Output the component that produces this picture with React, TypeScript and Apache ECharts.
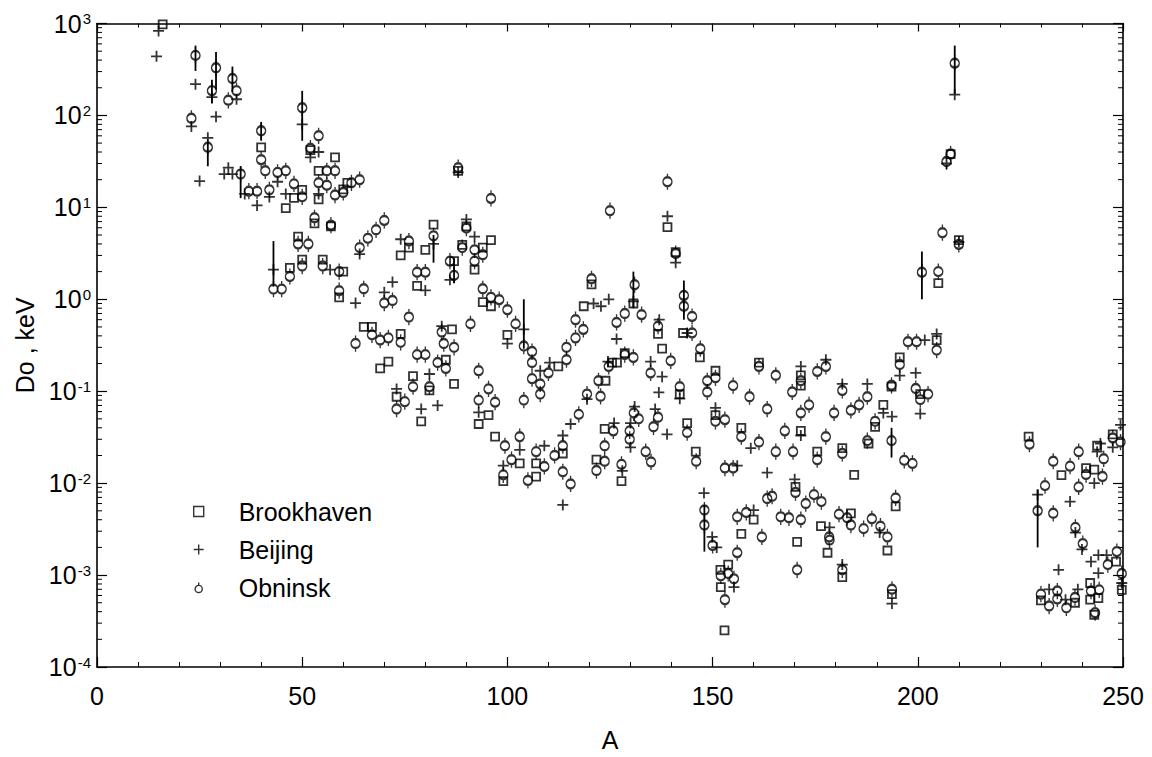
import React, { useEffect, useRef } from "react";
import * as echarts from "echarts";

// [A, Do (keV)] per evaluation
const brookhaven: [number, number][] = [
  [16, 980], [40, 45], [46, 9.8], [48, 12.7], [50, 15.5], [52, 42], [53, 6.7], [54, 25], [54, 12.2],
  [57, 6.2], [58, 35], [60, 15.7], [61, 18.5], [49, 4.8], [47, 2.2], [50, 2.7], [55, 2.7], [60, 2.0],
  [59, 1.05], [90, 6.2], [88, 25], [96, 4.4], [94, 3.65], [89, 3.9], [92, 2.1], [82, 6.5], [76, 3.65],
  [74, 3.0], [80, 3.45], [87, 2.6], [78, 1.4], [94, 0.93], [96, 0.84], [65, 0.5], [67, 0.5], [74, 0.42],
  [86.5, 0.47], [100, 0.41], [118.6, 0.84], [69, 0.177], [71, 0.21], [77, 0.146], [81, 0.102], [73, 0.087],
  [79, 0.047], [85, 0.22], [87, 0.12], [95.4, 0.055], [93, 0.044], [97, 0.032], [103, 0.0164], [99, 0.0105],
  [107, 0.0164], [107, 0.0118], [113.5, 0.021], [112.4, 0.186], [139, 6.1], [141, 3.25], [120.5, 1.45],
  [130.7, 0.9], [136.7, 0.42], [142.8, 0.43], [146.9, 0.233], [128.6, 0.26], [137.7, 0.29], [125.5, 0.205],
  [161.3, 0.205], [126.7, 0.205], [123.9, 0.13], [142, 0.093], [150.7, 0.167], [171.5, 0.149], [171.5, 0.115],
  [123.7, 0.039], [121.7, 0.018], [127.8, 0.0105], [143.8, 0.045], [145.9, 0.022], [150.7, 0.055], [157, 0.04],
  [171.5, 0.037], [175.5, 0.022], [160, 0.004], [157, 0.0028], [170.6, 0.0023], [170.2, 0.0091], [176.4, 0.0034],
  [151.9, 0.00114], [153.8, 0.0013], [152, 0.00074], [152.9, 0.00025], [178, 0.00175], [208, 38], [210, 4.4],
  [205, 1.5], [204.6, 0.36], [195.6, 0.233], [193.6, 0.112], [200.6, 0.093], [191.6, 0.071], [189.6, 0.041],
  [188, 0.027], [181.6, 0.024], [184.5, 0.0123], [194.6, 0.0056], [192.6, 0.00185], [183.7, 0.0047],
  [181.6, 0.00095], [193.7, 0.00062], [227, 0.032], [235, 0.0122], [243.7, 0.0255], [241, 0.0146], [243, 0.014],
  [247.5, 0.034], [230, 0.00053], [238.3, 0.0005], [242, 0.00082], [242, 0.00054], [244, 0.00056], [243, 0.00037],
  [248.3, 0.0014], [249.7, 0.00069],
];

const beijing: [number, number][] = [
  [15, 830], [14.5, 440], [24, 219], [23, 76], [28, 158], [29, 97], [27, 57], [25, 19.3], [34, 150], [31, 23],
  [32, 27], [33, 23], [36, 14], [39, 10.5], [42, 13], [44, 19], [46, 14], [50, 80], [54, 40], [52, 35], [54, 14],
  [43, 2.1], [56.8, 2.1], [64, 3.1], [88, 24], [90, 7.4], [92, 4.8], [82, 4.0], [74, 4.5], [86, 1.63], [80, 1.25],
  [63, 0.91], [72, 1.54], [70, 1.19], [84, 0.51], [100, 0.33], [104, 0.47], [81, 0.154], [73, 0.106], [79, 0.064],
  [83, 0.07], [93, 0.059], [103, 0.023], [99, 0.0155], [113.5, 0.0058], [113.5, 0.033], [109, 0.0255],
  [115.4, 0.044], [110.3, 0.205], [108, 0.167], [139, 8.0], [141, 2.5], [130.7, 0.95], [121, 0.9], [122.8, 0.84],
  [124.7, 1.0], [126.6, 0.37], [137, 0.6], [143.8, 0.43], [134.9, 0.21], [124.5, 0.21], [177.6, 0.22],
  [137.7, 0.144], [119.4, 0.082], [136.9, 0.097], [142, 0.083], [171.5, 0.186], [126, 0.045], [131, 0.068],
  [130, 0.0245], [130, 0.045], [128, 0.0136], [136, 0.064], [138.9, 0.034], [150.7, 0.066], [159.3, 0.024],
  [163.3, 0.013], [171.5, 0.033], [156, 0.0155], [147.9, 0.0078], [149.9, 0.0026], [160, 0.0051], [170, 0.011],
  [178.5, 0.0033], [151, 0.002], [155.2, 0.00074], [209, 168], [207, 30], [210, 4.2], [201.7, 0.36],
  [204.6, 0.42], [195.6, 0.148], [199.5, 0.158], [200.6, 0.057], [181.6, 0.12], [187.7, 0.12], [191.6, 0.058],
  [193.7, 0.053], [229.2, 0.0075], [237.1, 0.0063], [238.4, 0.0029], [243.7, 0.022], [244.5, 0.027], [243, 0.01],
  [249.4, 0.043], [247.5, 0.0245], [240, 0.0019], [234.3, 0.00114], [239, 0.0007], [232, 0.0007], [236, 0.00054],
  [242.2, 0.0014], [244, 0.00165], [246, 0.00165], [244, 0.00105], [249.7, 0.00082], [190.7, 0.0029],
  [181.6, 0.0013], [193.7, 0.00049],
];

const obninsk: [number, number][] = [
  [24, 450], [23, 93], [29, 330], [28, 186], [27, 45], [33, 252], [34, 186], [32, 146], [40, 68], [40, 33],
  [41, 25], [35, 23], [37, 15], [39, 15], [42, 15.5], [44, 24], [46, 25], [48, 18], [50, 13], [50, 121], [54, 60],
  [52, 44], [56, 25], [58, 25], [54, 18.5], [56, 17.4], [58, 13.6], [60, 14.5], [62, 18.5], [64, 20], [53, 7.7],
  [57, 6.4], [49, 4.0], [51.5, 4.0], [43, 1.29], [45, 1.29], [47, 1.77], [50, 2.3], [55, 2.3], [59, 2.0],
  [59, 1.24], [70, 7.2], [68, 5.7], [66, 4.6], [64, 3.65], [88, 27], [96, 12.5], [90, 5.95], [92, 3.45],
  [94, 3.05], [89, 3.65], [92, 2.6], [82, 4.9], [76, 4.3], [86, 2.6], [87, 1.82], [78, 1.97], [80, 1.97],
  [65, 1.3], [70, 0.91], [72, 0.97], [76, 0.64], [67, 0.41], [69, 0.36], [71, 0.38], [63, 0.33], [74, 0.34],
  [84, 0.44], [84.5, 0.33], [87, 0.3], [91, 0.54], [94, 1.3], [96, 1.05], [98, 0.99], [100, 0.77], [102, 0.54],
  [104, 0.31], [106, 0.27], [116.6, 0.6], [118.5, 0.47], [116.6, 0.38], [114.4, 0.3], [120.5, 1.67], [78, 0.25],
  [80, 0.25], [77, 0.112], [81, 0.112], [75, 0.077], [73, 0.064], [83, 0.205], [85, 0.177], [93, 0.167],
  [95.4, 0.106], [93, 0.08], [97, 0.076], [99.4, 0.0255], [103, 0.032], [101, 0.018], [99, 0.0123], [107, 0.022],
  [109, 0.0152], [105, 0.0107], [113.5, 0.0133], [115.4, 0.0098], [113.5, 0.0255], [111.5, 0.02], [117.4, 0.056],
  [119.4, 0.093], [106, 0.137], [108, 0.12], [106, 0.205], [108, 0.093], [110, 0.158], [104, 0.08], [114.4, 0.22],
  [139, 19], [125, 9.2], [141, 3.15], [143, 1.1], [143, 0.84], [145, 0.65], [131, 1.44], [128.6, 0.7],
  [126.6, 0.56], [132.7, 0.68], [136.7, 0.51], [145, 0.43], [147, 0.29], [130.7, 0.233], [139.8, 0.214],
  [124.7, 0.186], [128.6, 0.25], [134.9, 0.158], [122.2, 0.13], [122.7, 0.088], [142, 0.112], [148.7, 0.098],
  [148.7, 0.13], [150.7, 0.14], [161.3, 0.186], [165.4, 0.149], [155, 0.115], [159, 0.087], [163.3, 0.064],
  [169.4, 0.098], [171.5, 0.13], [175.5, 0.164], [177.6, 0.186], [171.5, 0.058], [173.5, 0.071], [179.6, 0.058],
  [125.8, 0.037], [123.7, 0.0255], [123.7, 0.0173], [121.7, 0.0137], [129.8, 0.037], [130.8, 0.058], [132, 0.05],
  [129.8, 0.03], [127.8, 0.016], [133.7, 0.022], [135, 0.017], [136.7, 0.052], [135.6, 0.041], [143.8, 0.0355],
  [146, 0.0173], [150.7, 0.047], [153, 0.049], [157, 0.032], [161.3, 0.028], [165.4, 0.022], [167.6, 0.037],
  [169.6, 0.022], [177.6, 0.032], [175.5, 0.018], [153, 0.0146], [155, 0.0146], [148, 0.0051], [148, 0.0035],
  [156, 0.0043], [158.2, 0.0048], [162, 0.0026], [163.3, 0.0068], [164.5, 0.0072], [166.6, 0.0043],
  [168.6, 0.0042], [171.5, 0.004], [170.2, 0.0079], [174.7, 0.0075], [176.5, 0.0063], [172.7, 0.006],
  [178.4, 0.0026], [150, 0.0021], [156, 0.00175], [152, 0.00098], [153.8, 0.00104], [155.2, 0.00091],
  [153, 0.00054], [170.6, 0.00114], [178.5, 0.0024], [209, 370], [208, 38], [207, 31.5], [206, 5.3], [210, 3.95],
  [201, 1.97], [205, 2.0], [197.6, 0.345], [199.7, 0.345], [204.6, 0.28], [195.6, 0.195], [193.6, 0.116],
  [199.5, 0.107], [200.6, 0.081], [202.5, 0.093], [181.6, 0.102], [183.7, 0.062], [185.7, 0.071], [187.7, 0.087],
  [189.6, 0.047], [187.7, 0.029], [181.6, 0.021], [193.6, 0.029], [196.7, 0.0177], [198.7, 0.0164],
  [194.6, 0.0069], [180.8, 0.0046], [182.8, 0.0042], [183.7, 0.0035], [186.8, 0.0032], [188.8, 0.0041],
  [190.9, 0.0034], [192.6, 0.0026], [181.6, 0.00114], [193.7, 0.0007], [227.2, 0.0265], [229.2, 0.005],
  [231, 0.0094], [233, 0.0173], [233, 0.0047], [237.1, 0.0153], [239.2, 0.022], [239.2, 0.0091], [238.4, 0.0033],
  [240.2, 0.0022], [245.3, 0.0184], [241, 0.0124], [245, 0.0118], [247.5, 0.031], [249.4, 0.028], [230, 0.00062],
  [232, 0.00046], [234, 0.00067], [234, 0.00055], [236.2, 0.00044], [238.3, 0.00057], [242.2, 0.00067],
  [244.2, 0.00069], [243.2, 0.00039], [246.3, 0.0013], [248.5, 0.0018], [249.7, 0.00104],
];

// [A, lower, upper] for the longer uncertainty bars
const errorBars: [number, number, number][] = [
  [24, 305, 575], [29, 190, 490], [28, 135, 245], [33, 180, 340], [50, 53, 185], [40, 53, 85], [27, 28, 52],
  [35, 12.6, 28], [43, 1.37, 4.3], [82, 2.5, 5], [87, 1.5, 2.8], [104, 0.29, 1.0], [130.7, 0.8, 2.0],
  [143, 0.6, 1.6], [148, 0.0018, 0.0058], [193.6, 0.019, 0.04], [201, 1.0, 3.3], [209, 170, 575],
  [229.2, 0.002, 0.0085],
];

const FONT = '"Liberation Sans", Arial, Helvetica, sans-serif';
const INK = "#000";

// 2..9 x 10^k between the axis limits, for the log minor ticks
const Y_MIN = 1e-4;
const Y_MAX = 1e3;
const logMinorTicks: number[] = [];
for (let e = -4; e < 3; e++) {
  for (let m = 2; m <= 9; m++) logMinorTicks.push(m * Math.pow(10, e));
}

const PLUS = "path://M0,5L10,5M5,0L5,10";
// open circle (bezier quadrants) with short stubs above and below
const CIRCLE_BAR =
  "path://M5,0L5,4M10,9C10,11.76 7.76,14 5,14C2.24,14 0,11.76 0,9C0,6.24 2.24,4 5,4C7.76,4 10,6.24 10,9ZM5,14L5,18";
const CIRCLE_STUB =
  "path://M5,0L5,4M10,9C10,11.76 7.76,14 5,14C2.24,14 0,11.76 0,9C0,6.24 2.24,4 5,4C7.76,4 10,6.24 10,9Z";

const legendItems = [
  { name: "Brookhaven", icon: "rect" },
  { name: "Beijing", icon: PLUS },
  { name: "Obninsk", icon: CIRCLE_STUB },
];

const hollow = { color: "rgba(0,0,0,0)", borderColor: INK, borderWidth: 1.8 };

export default function App() {
  const ref = useRef<HTMLDivElement>(null);

  useEffect(() => {
    if (!ref.current) return;
    const chart = echarts.init(ref.current, undefined, { renderer: "svg" });

    const axisLine = { show: true, onZero: false, lineStyle: { color: INK, width: 1.6 } };

    chart.setOption({
      animation: false,
      backgroundColor: "#fff",
      textStyle: { fontFamily: FONT },
      grid: { left: 97, right: 29, top: 23.5, bottom: 83, containLabel: false },
      legend: {
        data: legendItems,
        orient: "vertical",
        left: 188,
        top: 494,
        itemWidth: 10,
        itemHeight: 10,
        itemGap: 13,
        symbolKeepAspect: true,
        selectedMode: false,
        itemStyle: { color: "rgba(0,0,0,0)", borderColor: INK, borderWidth: 1.4 },
        textStyle: { fontSize: 25, fontFamily: FONT, color: INK, lineHeight: 24, padding: [0, 0, 0, 30] },
      },
      xAxis: [
        {
          type: "value",
          min: 0,
          max: 250,
          interval: 50,
          position: "bottom",
          axisLine,
          axisTick: { show: true, inside: true, length: 10, lineStyle: { color: INK, width: 1.2 } },
          minorTick: { show: true, splitNumber: 5, length: 5, lineStyle: { color: INK, width: 1 } },
          splitLine: { show: false },
          axisLabel: { margin: 16, fontSize: 25, color: INK, fontFamily: FONT },
          name: "A",
          nameLocation: "middle",
          nameGap: 60,
          nameTextStyle: { fontSize: 25, color: INK, fontFamily: FONT },
        },
        {
          type: "value",
          min: 0,
          max: 250,
          interval: 50,
          position: "top",
          axisLine,
          axisTick: { show: true, inside: true, length: 8, lineStyle: { color: INK, width: 1.2 } },
          minorTick: { show: true, splitNumber: 5, length: 4, lineStyle: { color: INK, width: 1 } },
          splitLine: { show: false },
          axisLabel: { show: false },
        },
      ],
      yAxis: [
        {
          type: "log",
          logBase: 10,
          min: Y_MIN,
          max: Y_MAX,
          position: "left",
          axisLine,
          axisTick: { show: true, inside: true, length: 10, lineStyle: { color: INK, width: 1.2 } },
          splitLine: { show: false },
          axisLabel: {
            margin: 6,
            fontSize: 25,
            color: INK,
            fontFamily: FONT,
            formatter: (v: number) => `10{s|${Math.round(Math.log10(v))}}`,
            rich: {
              s: { fontSize: 15, color: INK, fontFamily: FONT, verticalAlign: "top", padding: [0, 0, 0, 1] },
            },
          },
          name: "Do , keV",
          nameLocation: "middle",
          nameGap: 58,
          nameRotate: 90,
          nameTextStyle: { fontSize: 25, color: INK, fontFamily: FONT },
        },
        {
          type: "log",
          logBase: 10,
          min: Y_MIN,
          max: Y_MAX,
          position: "right",
          axisLine,
          axisTick: { show: true, inside: true, length: 10, lineStyle: { color: INK, width: 1.2 } },
          splitLine: { show: false },
          axisLabel: { show: false },
        },
      ],
      series: [
        {
          type: "custom",
          name: "minor",
          silent: true,
          clip: false,
          xAxisIndex: 0,
          yAxisIndex: 0,
          data: logMinorTicks.map((v) => [0, v]),
          encode: { x: 0, y: 1 },
          renderItem: (params: any, api: any) => {
            const cs = params.coordSys;
            const y = api.coord([0, api.value(1)])[1];
            const style = { stroke: INK, lineWidth: 1 };
            return {
              type: "group",
              children: [
                { type: "line", shape: { x1: cs.x, y1: y, x2: cs.x + 5, y2: y }, style },
                { type: "line", shape: { x1: cs.x + cs.width, y1: y, x2: cs.x + cs.width - 5, y2: y }, style },
              ],
            };
          },
        },
        {
          type: "custom",
          name: "bars",
          silent: true,
          clip: false,
          xAxisIndex: 0,
          yAxisIndex: 0,
          data: errorBars,
          encode: { x: 0, y: [1, 2] },
          renderItem: (_params: any, api: any) => {
            const a = api.value(0);
            const p1 = api.coord([a, api.value(1)]);
            const p2 = api.coord([a, api.value(2)]);
            return {
              type: "line",
              shape: { x1: p1[0], y1: p1[1], x2: p2[0], y2: p2[1] },
              style: { stroke: INK, lineWidth: 1.8 },
            };
          },
        },
        {
          type: "scatter",
          name: "Brookhaven",
          data: brookhaven,
          symbol: "rect",
          symbolSize: 8,
          itemStyle: hollow,
          clip: false,
        },
        {
          type: "scatter",
          name: "Beijing",
          data: beijing,
          symbol: PLUS,
          symbolSize: 11,
          itemStyle: hollow,
          clip: false,
        },
        {
          type: "scatter",
          name: "Obninsk",
          data: obninsk,
          symbol: CIRCLE_BAR,
          symbolSize: [9, 16.2],
          symbolKeepAspect: false,
          itemStyle: hollow,
          clip: false,
        },
      ],
    });

    return () => chart.dispose();
  }, []);

  return (
    <div
      ref={ref}
      style={{ position: "fixed", left: 0, top: 0, width: 1152, height: 757, background: "#fff" }}
    />
  );
}
